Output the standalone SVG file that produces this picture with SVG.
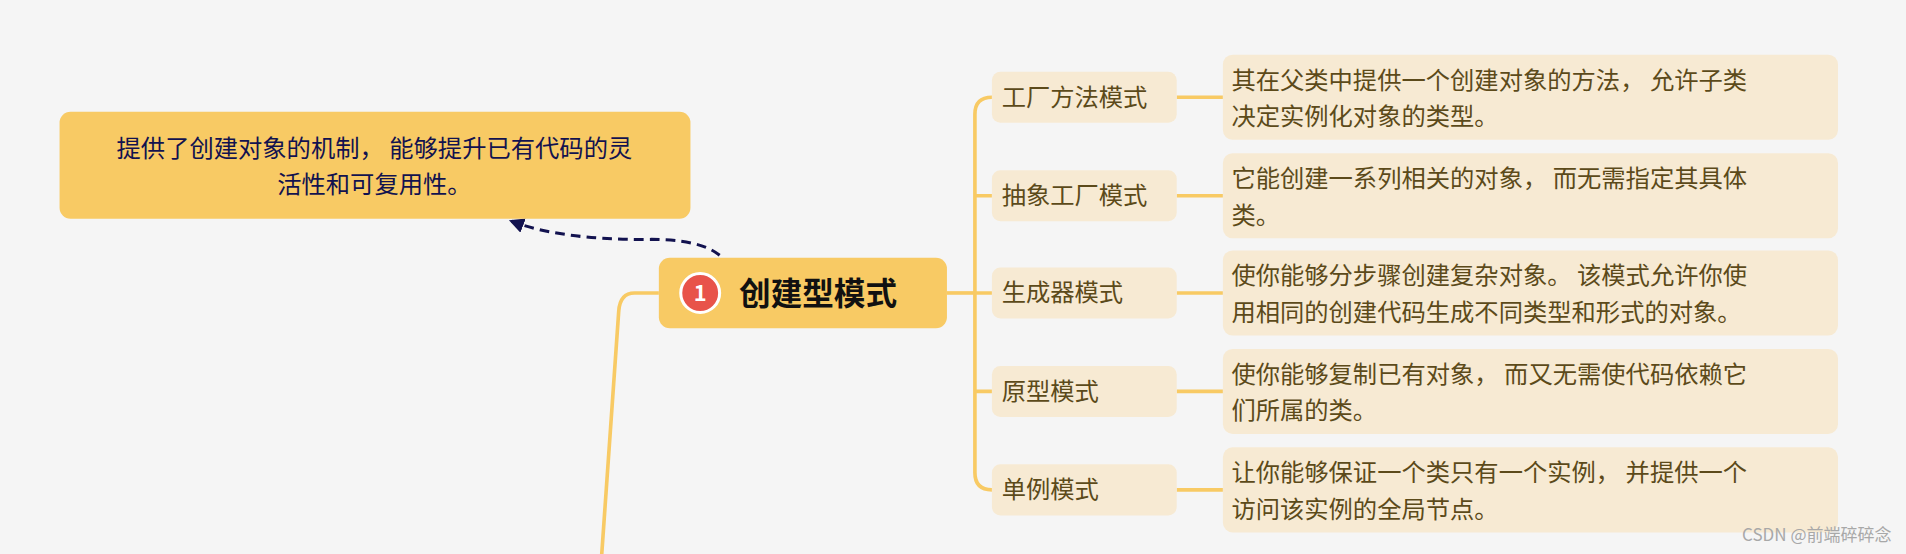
<svg xmlns="http://www.w3.org/2000/svg" width="1906" height="554" viewBox="0 0 1906 554">
<defs>
<style>
text{font-family:"Noto Sans CJK SC","Noto Sans",sans-serif}
.ln{fill:none;stroke:#F8CA64;stroke-width:3}
.child{fill:#F7EAD3}
.ct{font-size:20px;fill:#5C4A1A}
.desc{fill:#F7EAD3}
</style>
<marker id="ah" viewBox="0 0 10 10" refX="8" refY="5" markerWidth="5" markerHeight="5" orient="auto"><path d="M0,0L10,5L0,10z" fill="#12124F"/></marker>
</defs>
<rect width="1906" height="554" fill="#F5F5F5"/>
<g transform="scale(1.2156)">
<g id="connectors">
<path class="ln" d="M542,241 L522,241 Q510,241 509,256 L495,456"/>
<path class="ln" d="M779,241 L802,241"/>
<path class="ln" d="M816,80 Q802,80 802,94 L802,389 Q802,403 816,403"/>
<path class="ln" d="M802,161 L816,161 M802,241 L816,241 M802,322 L816,322"/>
<path class="ln" d="M968,80 L1006,80 M968,161 L1006,161 M968,241 L1006,241 M968,322 L1006,322 M968,403 L1006,403"/>
<path d="M592,210 Q575,196 530,197 Q460,197 421,182" fill="none" stroke="#12124F" stroke-width="2.5" stroke-dasharray="8,5" marker-end="url(#ah)"/>
</g>
<g id="note">
<rect x="49" y="92" width="519" height="88" rx="9" fill="#F8CA64"/>
<text x="308" y="129" text-anchor="middle" font-size="20" fill="#12124F">提供了创建对象的机制， 能够提升已有代码的灵</text>
<text x="308" y="159" text-anchor="middle" font-size="20" fill="#12124F">活性和可复用性。</text>
</g>
<g id="center">
<rect x="542" y="212" width="237" height="58" rx="9" fill="#F8CA64"/>
<circle cx="576" cy="241" r="16" fill="#E8534A" stroke="#fff" stroke-width="2.5"/>
<text x="576" y="248" text-anchor="middle" font-size="18" font-weight="bold" fill="#fff">1</text>
<text x="608" y="251" font-size="26" font-weight="bold" fill="#111">创建型模式</text>
</g>
<g id="c1"><rect class="child" x="816" y="59" width="152" height="42" rx="7"/><text class="ct" x="824" y="87">工厂方法模式</text></g>
<g id="c2"><rect class="child" x="816" y="140" width="152" height="42" rx="7"/><text class="ct" x="824" y="168">抽象工厂模式</text></g>
<g id="c3"><rect class="child" x="816" y="220" width="152" height="42" rx="7"/><text class="ct" x="824" y="248">生成器模式</text></g>
<g id="c4"><rect class="child" x="816" y="301" width="152" height="42" rx="7"/><text class="ct" x="824" y="329">原型模式</text></g>
<g id="c5"><rect class="child" x="816" y="382" width="152" height="42" rx="7"/><text class="ct" x="824" y="410">单例模式</text></g>
<g id="d1"><rect class="desc" x="1006" y="45" width="506" height="70" rx="8"/><text class="ct" x="1013" y="73">其在父类中提供一个创建对象的方法， 允许子类</text><text class="ct" x="1013" y="103">决定实例化对象的类型。</text></g>
<g id="d2"><rect class="desc" x="1006" y="126" width="506" height="70" rx="8"/><text class="ct" x="1013" y="154">它能创建一系列相关的对象， 而无需指定其具体</text><text class="ct" x="1013" y="184">类。</text></g>
<g id="d3"><rect class="desc" x="1006" y="206" width="506" height="70" rx="8"/><text class="ct" x="1013" y="234">使你能够分步骤创建复杂对象。 该模式允许你使</text><text class="ct" x="1013" y="264">用相同的创建代码生成不同类型和形式的对象。</text></g>
<g id="d4"><rect class="desc" x="1006" y="287" width="506" height="70" rx="8"/><text class="ct" x="1013" y="315">使你能够复制已有对象， 而又无需使代码依赖它</text><text class="ct" x="1013" y="345">们所属的类。</text></g>
<g id="d5"><rect class="desc" x="1006" y="368" width="506" height="70" rx="8"/><text class="ct" x="1013" y="396">让你能够保证一个类只有一个实例， 并提供一个</text><text class="ct" x="1013" y="426">访问该实例的全局节点。</text></g>
<text x="1556" y="445" text-anchor="end" font-size="14" fill="#A8A8A8">CSDN @前端碎碎念</text>
</g>
</svg>
